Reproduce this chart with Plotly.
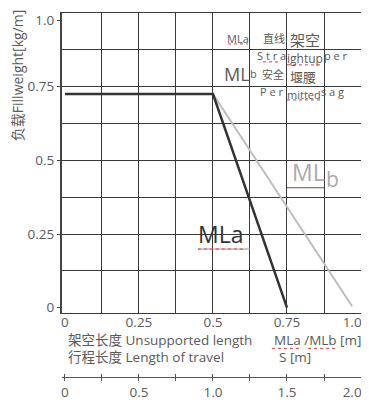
import plotly.graph_objects as go

# ---- data ----
mla_x = [0.0, 0.5, 0.75]
mla_y = [0.725, 0.725, 0.0]
mlb_x = [0.5, 0.97]
mlb_y = [0.725, 0.005]

x_tick_vals = [0, 0.25, 0.5, 0.75, 1.0]
x_tick_text = ["0", "0.25", "0.5", "0.75", "1.0"]
y_tick_vals = [0, 0.25, 0.5, 0.75, 1.0]
y_tick_text = ["0", "0.25", "0.5", "0.75", "1.0"]
grid_vals = [0.125, 0.25, 0.375, 0.5, 0.625, 0.75, 0.875, 1.0]
s_tick_vals = [0, 0.25, 0.5, 0.75, 1.0, 1.25, 1.5, 1.75, 2.0]
s_label_vals = [0, 0.5, 1.0, 1.5, 2.0]
s_label_text = ["0", "0.5", "1.0", "1.5", "2.0"]

FONT = "Open Sans, Noto Sans CJK SC, sans-serif"
TXT = "#5a5a5a"
GRID = "#3a3a3a"

XR = [-0.01, 1.0]
YR = [-0.018, 1.0]
SR = [-0.02, 2.0]

fig = go.Figure()
fig.add_trace(go.Scatter(x=mlb_x, y=mlb_y, mode="lines",
                         line=dict(color="#bdbdbd", width=2), hoverinfo="skip"))
fig.add_trace(go.Scatter(x=mla_x, y=mla_y, mode="lines",
                         line=dict(color="#333333", width=2.5), hoverinfo="skip"))
# dummy traces so overlay axes get drawn
for xa, ya in [("x2", "y2"), ("x3", "y"), ("x4", "y"), ("x5", "y")]:
    fig.add_trace(go.Scatter(x=[None], y=[None], xaxis=xa, yaxis=ya,
                             mode="markers", hoverinfo="skip", showlegend=False))

last_shift = 0.03
top_shift = 0.024
S_POS = 0.0667
TICKF = 13.5
fig.update_layout(
    width=361, height=395,
    margin=dict(l=54, r=8, t=5, b=0, autoexpand=False),
    plot_bgcolor="white", paper_bgcolor="white",
    showlegend=False,
    font=dict(family=FONT, color=TXT, size=14),
    xaxis=dict(range=XR, domain=[0, 1], tickvals=grid_vals, showticklabels=False,
               showgrid=True, gridcolor=GRID, gridwidth=1, zeroline=False, automargin=False,
               showline=True, linecolor=GRID, linewidth=1, mirror=True, ticks=""),
    yaxis=dict(range=YR, domain=[0.2308, 1], tickvals=grid_vals, showticklabels=False,
               showgrid=True, gridcolor=GRID, gridwidth=1, zeroline=False, automargin=False,
               showline=True, linecolor="#444444", linewidth=2, mirror=False, ticks=""),
    xaxis2=dict(range=XR, overlaying="x", anchor="y2", side="bottom", automargin=False,
                tickvals=x_tick_vals[:-1] + [x_tick_vals[-1] - last_shift],
                ticktext=x_tick_text, showgrid=False, zeroline=False, showline=False,
                ticks="", tickfont=dict(size=TICKF, color=TXT)),
    yaxis2=dict(range=YR, overlaying="y", anchor="x2", side="left", automargin=False,
                tickvals=y_tick_vals[:-1] + [y_tick_vals[-1] - top_shift],
                ticktext=y_tick_text, showgrid=False,
                zeroline=False, showline=False, ticks="outside", ticklen=4,
                tickcolor="#444444", tickfont=dict(size=TICKF, color=TXT)),
    xaxis3=dict(range=SR, overlaying="x", anchor="free", position=S_POS, side="bottom",
                tickvals=s_tick_vals, showticklabels=False, showgrid=False, zeroline=False,
                showline=True, linecolor="#555555", linewidth=1, automargin=False,
                ticks="outside", ticklen=3, tickcolor="#555555"),
    xaxis4=dict(range=SR, overlaying="x", anchor="free", position=S_POS, side="top",
                tickvals=s_tick_vals, showticklabels=False, showgrid=False, zeroline=False,
                showline=False, ticks="outside", ticklen=3, tickcolor="#555555",
                automargin=False),
    xaxis5=dict(range=SR, overlaying="x", anchor="free", position=S_POS, side="bottom",
                tickvals=s_label_vals[:-1] + [s_label_vals[-1] - 2 * last_shift],
                ticktext=s_label_text, showgrid=False, zeroline=False, showline=False,
                ticks="outside", ticklen=3, tickcolor="rgba(0,0,0,0)", automargin=False,
                tickfont=dict(size=TICKF, color=TXT)),
)

def ann(text, x, y, size, color=TXT, xref="x", yref="y", xanchor="center", **kw):
    fig.add_annotation(text=text, x=x, y=y, xref=xref, yref=yref, showarrow=False,
                       xanchor=xanchor, yanchor="middle",
                       font=dict(size=size, color=color, family=FONT), **kw)

# small legend-like text block at top
ann("MLa", 0.584, 0.912, 11)
ann("直线", 0.706, 0.912, 11)
ann("架空", 0.811, 0.910, 15)
ann("S t r a", 0.699, 0.857, 11)
ann("ightup", 0.811, 0.844, 12)
ann("p e r", 0.916, 0.857, 11)
ann("ML", 0.580, 0.793, 18)
ann("b", 0.637, 0.796, 11)
ann("安全", 0.703, 0.793, 11)
ann("堰腰", 0.804, 0.783, 13)
ann("P e r", 0.699, 0.732, 11)
ann("mitted", 0.807, 0.722, 11)
ann("s a g", 0.905, 0.732, 11)

# big series labels
ann("MLa", 0.524, 0.250, 23, color="#333333")
ann("ML", 0.822, 0.460, 23, color="#ababab")
ann("b", 0.905, 0.437, 21, color="#ababab")

# underline segments
fig.add_shape(type="line", xref="x", yref="y", x0=0.75, x1=0.875, y0=0.407, y1=0.407,
              line=dict(color="#555555", width=1))
fig.add_shape(type="line", xref="x", yref="y", x0=0.449, x1=0.625, y0=0.199, y1=0.199,
              line=dict(color="#999999", width=1))

# red spell-check squiggles
def squig(x0, x1, y, xref="x", yref="y"):
    fig.add_shape(type="line", xref=xref, yref=yref, x0=x0, x1=x1, y0=y, y1=y,
                  line=dict(color="#d04040", width=1, dash="dot"))

squig(0.551, 0.618, 0.895)
squig(0.669, 0.727, 0.834)
squig(0.750, 0.872, 0.824)
squig(0.750, 0.868, 0.705)
squig(0.449, 0.601, 0.199)

# bottom axis captions
CAP = 13.5
ann("架空长度 Unsupported length", 0.013, 0.162, CAP, xref="paper", yref="paper", xanchor="left")
ann("MLa /MLb [m]", 0.702, 0.162, CAP, xref="paper", yref="paper", xanchor="left")
ann("行程长度 Length of travel", 0.013, 0.117, CAP, xref="paper", yref="paper", xanchor="left")
ann("S [m]", 0.719, 0.117, CAP, xref="paper", yref="paper", xanchor="left")
squig(0.702, 0.796, 0.140, xref="paper", yref="paper")
squig(0.823, 0.923, 0.140, xref="paper", yref="paper")

# y axis title
ann("负载Fillweight[kg/m]", -0.1505, 0.838, 14, xref="paper", yref="paper", textangle=-90)

fig.write_html("out.html")
